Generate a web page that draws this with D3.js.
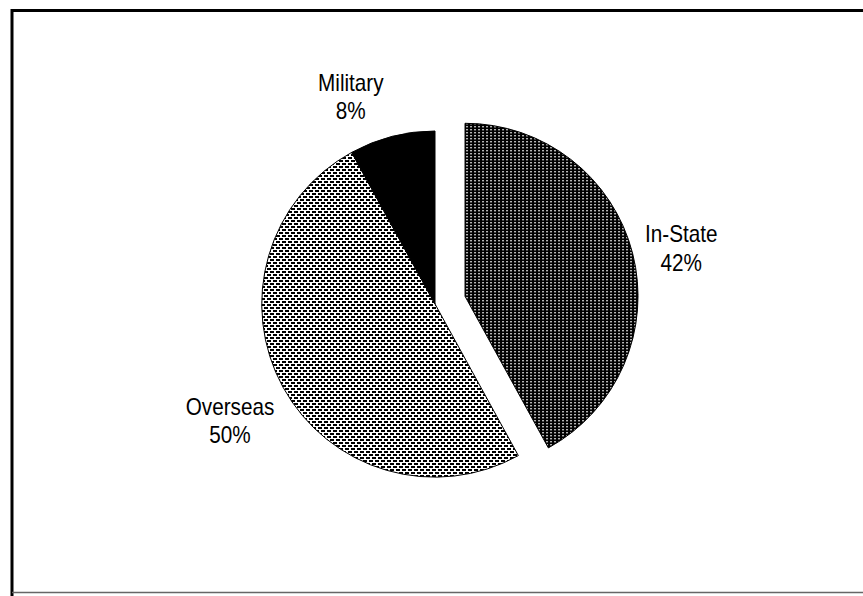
<!DOCTYPE html>
<html>
<head>
<meta charset="utf-8">
<script src="https://cdn.jsdelivr.net/npm/d3@7"></script>
<style>
  body { margin: 0; background: #fff; }
  text { font-family: "Liberation Sans", Arial, sans-serif; }
</style>
</head>
<body>
<div id="svgContainer"></div>
<script>
// chart data
var labels = ["In-State", "Overseas", "Military"];
var values = [42, 50, 8];
var exploded = ["In-State"];

var svgWidth = 863, svgHeight = 596;
var svg = d3.select("#svgContainer").append("svg")
    .attr("width", svgWidth)
    .attr("height", svgHeight);

var cx = 435, cy = 304, radius = 173, explodeBy = 31;

// fill patterns
var defs = svg.append("defs");
var pDark = defs.append("pattern").attr("id", "darkDots")
    .attr("patternUnits", "userSpaceOnUse").attr("width", 4).attr("height", 3);
pDark.append("rect").attr("width", 4).attr("height", 3).attr("fill", "#000");
pDark.append("rect").attr("x", 1).attr("y", 1).attr("width", 2).attr("height", 1).attr("fill", "#fff");

var pLight = defs.append("pattern").attr("id", "lightDots")
    .attr("patternUnits", "userSpaceOnUse").attr("width", 6).attr("height", 6);
pLight.append("rect").attr("width", 6).attr("height", 6).attr("fill", "#fff");
pLight.append("rect").attr("x", 0).attr("y", 0).attr("width", 4).attr("height", 2).attr("fill", "#000");
pLight.append("rect").attr("x", 3).attr("y", 3).attr("width", 4).attr("height", 2).attr("fill", "#000");
pLight.append("rect").attr("x", -3).attr("y", 3).attr("width", 4).attr("height", 2).attr("fill", "#000");

var fills = d3.scaleOrdinal().domain(labels)
    .range(["url(#darkDots)", "url(#lightDots)", "#000"]);

// frame
svg.append("path")
    .attr("d", "M12," + svgHeight + " V10.5 H" + svgWidth)
    .attr("fill", "none").attr("stroke", "#000").attr("stroke-width", 3);
svg.append("line")
    .attr("x1", 12).attr("x2", svgWidth).attr("y1", 592.5).attr("y2", 592.5)
    .attr("stroke", "#666").attr("stroke-width", 1.5);

var table = labels.map(function(d, i) { return {label: d, value: values[i]}; });
var pie = d3.pie().sort(null).value(function(d) { return d.value; });
var arc = d3.arc().innerRadius(0).outerRadius(radius);
var arcs = pie(table);

function offset(d) {
    if (exploded.indexOf(d.data.label) < 0) return [0, 0];
    var a = (d.startAngle + d.endAngle) / 2;
    return [Math.sin(a) * explodeBy, -Math.cos(a) * explodeBy];
}

var g = svg.append("g").attr("transform", "translate(" + cx + "," + cy + ")");

g.selectAll("path.slice")
    .data(arcs)
    .enter().append("path")
    .attr("class", "slice")
    .attr("transform", function(d) { return "translate(" + offset(d) + ")"; })
    .attr("d", arc)
    .attr("fill", function(d) { return fills(d.data.label); })
    .attr("stroke", "#000")
    .attr("stroke-width", 1);

// labels outside the pie (condensed look of the old bitmap font)
var nudge = {"In-State": [2, 5], "Overseas": [-4, 15], "Military": [-30, -1]};
var lab = g.selectAll("g.lab")
    .data(arcs)
    .enter().append("g")
    .attr("class", "lab");

lab.append("text")
    .attr("text-anchor", "middle")
    .attr("font-size", 23)
    .attr("fill", "#000")
    .attr("transform", "scale(0.9,1)")
    .selectAll("tspan")
    .data(function(d) { return [d.data.label, d3.format(".0%")(d.data.value / 100)]; })
    .enter().append("tspan")
    .attr("x", 0)
    .attr("y", function(d, i) { return i * 28.5; })
    .text(function(d) { return d; });

lab.attr("transform", function(d) {
    var a = (d.startAngle + d.endAngle) / 2;
    var o = offset(d);
    var bb = this.getBBox();
    var r = radius + 12;
    var x = Math.sin(a) * r + Math.sin(a) * bb.width / 2 + o[0] + nudge[d.data.label][0];
    var y = -Math.cos(a) * r - Math.cos(a) * bb.height / 2 + o[1] + nudge[d.data.label][1];
    return "translate(" + (x - bb.x - bb.width / 2) + "," + (y - bb.y - bb.height / 2) + ")";
});
</script>
</body>
</html>
